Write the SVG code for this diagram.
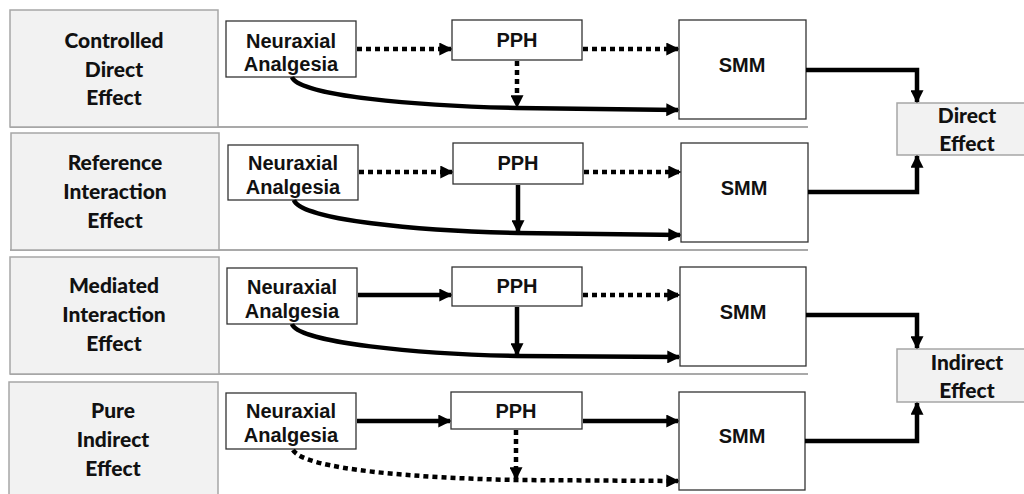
<svg xmlns="http://www.w3.org/2000/svg" width="1024" height="494" viewBox="0 0 1024 494">
  <defs>
    <marker id="arrow" viewBox="0 0 10 10" refX="9" refY="5" markerWidth="13" markerHeight="13" markerUnits="userSpaceOnUse" orient="auto">
      <path d="M0,0 L10,5 L0,10 Z" fill="#000"/>
    </marker>
    <style>
      .label { fill: #f2f2f2; stroke: #a6a6a6; stroke-width: 1.5; }
      .box { fill: #fff; stroke: #333; stroke-width: 1.3; }
      .sep { stroke: #a9a9a9; stroke-width: 2; fill: none; }
      .ltxt { font-family: Lato, "Liberation Sans", sans-serif; font-weight: 900; font-size: 21px; fill: #111; text-anchor: middle; }
      .ntxt { font-family: "Liberation Sans", Arial, sans-serif; font-weight: bold; font-size: 20px; fill: #111; text-anchor: middle; }
      .solid { stroke: #000; stroke-width: 4.5; fill: none; marker-end: url(#arrow); }
      .dot { stroke: #000; stroke-width: 4.5; fill: none; stroke-dasharray: 5 4; marker-end: url(#arrow); }
    </style>
  </defs>

  <rect width="1024" height="494" fill="#fff"/>

  <!-- row separators -->
  <g id="separators">
    <line class="sep" x1="10" y1="127" x2="808" y2="127"/>
    <line class="sep" x1="10" y1="250" x2="808" y2="250"/>
    <line class="sep" x1="10" y1="374" x2="808" y2="374"/>
  </g>

  <!-- effect labels on the left -->
  <g id="label-cde">
    <rect class="label" x="10" y="10" width="208" height="117"/>
    <text class="ltxt" x="114" y="48">Controlled</text>
    <text class="ltxt" x="114" y="77">Direct</text>
    <text class="ltxt" x="114" y="105">Effect</text>
  </g>
  <g id="label-rie">
    <rect class="label" x="11" y="133" width="208" height="117"/>
    <text class="ltxt" x="115" y="170">Reference</text>
    <text class="ltxt" x="115" y="199">Interaction</text>
    <text class="ltxt" x="115" y="228">Effect</text>
  </g>
  <g id="label-mie">
    <rect class="label" x="10" y="257" width="209" height="117"/>
    <text class="ltxt" x="114" y="293">Mediated</text>
    <text class="ltxt" x="114" y="322">Interaction</text>
    <text class="ltxt" x="114" y="351">Effect</text>
  </g>
  <g id="label-pie">
    <rect class="label" x="9" y="382" width="209" height="120"/>
    <text class="ltxt" x="113" y="418">Pure</text>
    <text class="ltxt" x="113" y="447">Indirect</text>
    <text class="ltxt" x="113" y="476">Effect</text>
  </g>

  <!-- row 1 nodes -->
  <g id="na1">
    <rect class="box" x="226" y="21" width="130" height="56"/>
    <text class="ntxt" x="291" y="48">Neuraxial</text>
    <text class="ntxt" x="291" y="71">Analgesia</text>
  </g>
  <g id="pph1">
    <rect class="box" x="452" y="20" width="130" height="40"/>
    <text class="ntxt" x="517" y="47">PPH</text>
  </g>
  <g id="smm1">
    <rect class="box" x="679" y="20" width="127" height="99"/>
    <text class="ntxt" x="742" y="72">SMM</text>
  </g>

  <!-- row 2 nodes -->
  <g id="na2">
    <rect class="box" x="228" y="145" width="130" height="55"/>
    <text class="ntxt" x="293" y="170">Neuraxial</text>
    <text class="ntxt" x="293" y="194">Analgesia</text>
  </g>
  <g id="pph2">
    <rect class="box" x="453" y="143" width="130" height="41"/>
    <text class="ntxt" x="518" y="170">PPH</text>
  </g>
  <g id="smm2">
    <rect class="box" x="681" y="143" width="127" height="99"/>
    <text class="ntxt" x="744" y="195">SMM</text>
  </g>

  <!-- row 3 nodes -->
  <g id="na3">
    <rect class="box" x="227" y="268" width="130" height="56"/>
    <text class="ntxt" x="292" y="294">Neuraxial</text>
    <text class="ntxt" x="292" y="318">Analgesia</text>
  </g>
  <g id="pph3">
    <rect class="box" x="452" y="267" width="130" height="39"/>
    <text class="ntxt" x="517" y="293">PPH</text>
  </g>
  <g id="smm3">
    <rect class="box" x="680" y="267" width="126" height="99"/>
    <text class="ntxt" x="743" y="319">SMM</text>
  </g>

  <!-- row 4 nodes -->
  <g id="na4">
    <rect class="box" x="226" y="393" width="130" height="56"/>
    <text class="ntxt" x="291" y="418">Neuraxial</text>
    <text class="ntxt" x="291" y="442">Analgesia</text>
  </g>
  <g id="pph4">
    <rect class="box" x="451" y="392" width="131" height="37"/>
    <text class="ntxt" x="516" y="418">PPH</text>
  </g>
  <g id="smm4">
    <rect class="box" x="679" y="392" width="126" height="98"/>
    <text class="ntxt" x="742" y="443">SMM</text>
  </g>

  <!-- summary nodes -->
  <g id="direct-effect">
    <rect class="label" x="897" y="103" width="130" height="52"/>
    <text class="ltxt" x="967" y="123">Direct</text>
    <text class="ltxt" x="967" y="151">Effect</text>
  </g>
  <g id="indirect-effect">
    <rect class="label" x="897" y="349" width="130" height="53"/>
    <text class="ltxt" x="967" y="370">Indirect</text>
    <text class="ltxt" x="967" y="398">Effect</text>
  </g>

  <!-- connectors -->
  <g id="connectors">
    <!-- row 1: all mediator paths fixed -->
    <path class="dot" d="M357,49 H451"/>
    <path class="dot" d="M583,49 H678"/>
    <path class="dot" d="M517,61 V107"/>
    <path class="solid" d="M292,77 C298,96 420,106 517,108 L678,110"/>
    <path class="solid" d="M806,70 H917 V102"/>

    <!-- row 2 -->
    <path class="dot" d="M359,172 H452"/>
    <path class="dot" d="M584,172 H680"/>
    <path class="solid" d="M518,185 V232"/>
    <path class="solid" d="M294,200 C300,220 420,231 518,233 L680,235"/>
    <path class="solid" d="M808,192 H917 V156"/>

    <!-- row 3 -->
    <path class="solid" d="M358,295 H451"/>
    <path class="dot" d="M583,295 H679"/>
    <path class="solid" d="M517,307 V355"/>
    <path class="solid" d="M292,324 C298,343 420,354 517,356 L679,357"/>
    <path class="solid" d="M806,315 H917 V348"/>

    <!-- row 4 -->
    <path class="solid" d="M357,421 H450"/>
    <path class="solid" d="M583,421 H678"/>
    <path class="dot" d="M516,430 V479"/>
    <path class="dot" d="M293,450 C305,470 420,478 516,480 L678,481"/>
    <path class="solid" d="M805,441 H917 V403"/>
  </g>
</svg>
